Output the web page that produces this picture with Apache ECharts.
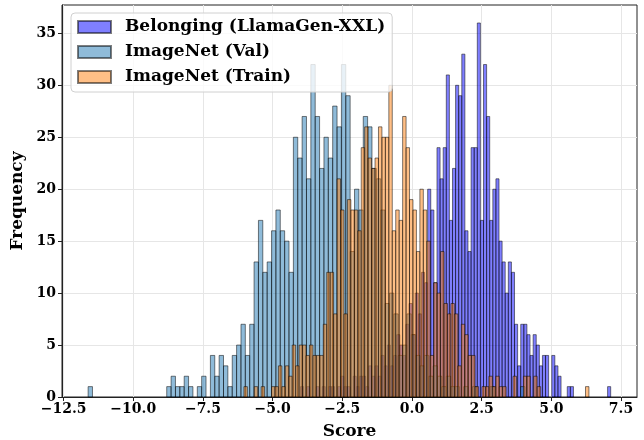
<!DOCTYPE html>
<html>
<head>
<meta charset="utf-8">
<script src="https://cdn.jsdelivr.net/npm/echarts@6/dist/echarts.min.js"></script>
<style>
  html, body { margin: 0; padding: 0; background: #fff; }
  #chart { width: 644px; height: 440px; }
</style>
</head>
<body>
<div id="chart"></div>
<script>
// 每个分布 100 个分箱，范围和计数从图上读出
const belongRange = [-4.0, 7.13];
const valRange = [-11.62, 4.05];
const trainRange = [-6.03, 6.35];

const belongCounts = [
  1, 0, 1, 0, 0, 1, 0, 1, 0, 1,
  1, 0, 1, 2, 1, 1, 0, 2, 1, 2,
  2, 1, 3, 2, 3, 2, 4, 3, 5, 3,
  4, 6, 5, 4, 7, 9, 6, 10, 8, 12,
  11, 20, 18, 11, 24, 21, 24, 31, 17, 22,
  30, 29, 33, 16, 14, 24, 24, 36, 17, 32,
  27, 17, 20, 21, 15, 13, 10, 13, 12, 7,
  3, 7, 7, 6, 4, 6, 5, 3, 4, 4,
  0, 4, 3, 2, 0, 0, 1, 1, 0, 0,
  0, 0, 0, 0, 0, 0, 0, 0, 0, 1
];

const valCounts = [
  1, 0, 0, 0, 0, 0, 0, 0, 0, 0,
  0, 0, 0, 0, 0, 0, 0, 0, 1, 2,
  1, 1, 2, 1, 0, 1, 2, 0, 4, 2,
  4, 3, 1, 4, 5, 7, 4, 7, 13, 17,
  12, 13, 16, 18, 16, 15, 12, 25, 23, 27,
  21, 32, 27, 22, 25, 23, 28, 26, 32, 29,
  14, 20, 18, 27, 26, 22, 21, 18, 9, 10,
  8, 4, 5, 8, 6, 4, 3, 4, 2, 3,
  2, 1, 2, 1, 1, 0, 1, 0, 1, 0,
  0, 0, 1, 0, 0, 0, 0, 0, 0, 1
];

const trainCounts = [
  1, 0, 0, 1, 0, 1, 0, 0, 1, 1,
  3, 1, 3, 2, 5, 3, 5, 5, 4, 5,
  4, 4, 4, 7, 12, 12, 8, 21, 18, 8,
  19, 18, 18, 16, 24, 26, 23, 22, 23, 26,
  25, 25, 30, 16, 18, 17, 27, 24, 19, 18,
  14, 20, 18, 15, 4, 11, 10, 14, 9, 8,
  9, 8, 3, 7, 6, 4, 4, 1, 0, 1,
  1, 2, 1, 2, 1, 1, 0, 0, 2, 0,
  0, 2, 2, 0, 2, 1, 0, 0, 0, 0,
  0, 0, 0, 0, 0, 0, 0, 0, 0, 1
];

const xTicks = [-12.5, -10, -7.5, -5, -2.5, 0, 2.5, 5, 7.5];
const yTicks = [0, 5, 10, 15, 20, 25, 30, 35];

const FONT = 'DejaVu Serif';

// [左边界, 右边界, 计数]
function toBins(range, counts) {
    const w = (range[1] - range[0]) / counts.length;
    return counts.map((c, i) => [range[0] + i * w, range[0] + (i + 1) * w, c]);
}

function renderBar(params, api) {
    const c = api.value(2);
    if (!c) return null;
    const p0 = api.coord([api.value(0), c]);
    const p1 = api.coord([api.value(1), 0]);
    return {
        type: 'rect',
        shape: { x: p0[0], y: p0[1], width: p1[0] - p0[0], height: p1[1] - p0[1] },
        style: { fill: api.visual('color'), stroke: 'rgba(0,0,0,0.5)', lineWidth: 1 }
    };
}

function histSeries(name, color, range, counts) {
    return {
        name: name,
        type: 'custom',
        renderItem: renderBar,
        encode: { x: [0, 1], y: 2 },
        itemStyle: { color: color, borderColor: 'rgba(0,0,0,0.5)', borderWidth: 1 },
        data: toBins(range, counts)
    };
}

const chart = echarts.init(document.getElementById('chart'), null, { renderer: 'canvas' });

const option = {
    animation: false,
    grid: {
        left: 62, right: 7, top: 5, bottom: 43,
        outerBoundsMode: 'none',
        show: true, borderColor: '#222', borderWidth: 1
    },
    legend: {
        orient: 'vertical',
        left: 71, top: 13,
        icon: 'rect',
        itemWidth: 33, itemHeight: 12, itemGap: 5,
        padding: [4, 7, 5, 6],
        backgroundColor: 'rgba(255,255,255,0.8)',
        borderColor: '#d0d0d0', borderWidth: 1, borderRadius: 4,
        textStyle: {
            fontFamily: FONT, fontWeight: 'bold', fontSize: 17, color: '#000',
            lineHeight: 20, padding: [0, 0, 0, 9]
        },
        data: ['Belonging (LlamaGen-XXL)', 'ImageNet (Val)', 'ImageNet (Train)']
    },
    xAxis: {
        type: 'value',
        min: -12.557, max: 8.074,
        name: 'Score', nameLocation: 'middle', nameGap: 26,
        nameTextStyle: { fontFamily: FONT, fontWeight: 'bold', fontSize: 17, color: '#000' },
        axisLine: { show: true, onZero: false, lineStyle: { color: '#222', width: 1 } },
        axisTick: { show: true, length: 4, lineStyle: { color: '#222' }, customValues: xTicks },
        axisLabel: {
            customValues: xTicks, margin: 5,
            fontFamily: FONT, fontWeight: 'bold', fontSize: 14, color: '#000',
            formatter: v => (v < 0 ? '\u2212' : '') + Math.abs(v).toFixed(1)
        },
        splitLine: { show: true, lineStyle: { color: '#e6e6e6', width: 1 } }
    },
    yAxis: {
        type: 'value',
        min: 0, max: 37.73,
        name: 'Frequency', nameLocation: 'middle', nameGap: 33,
        nameTextStyle: { fontFamily: FONT, fontWeight: 'bold', fontSize: 17, color: '#000' },
        axisLine: { show: true, onZero: false, lineStyle: { color: '#222', width: 1 } },
        axisTick: { show: true, length: 4, lineStyle: { color: '#222' }, customValues: yTicks },
        axisLabel: {
            customValues: yTicks, margin: 6,
            fontFamily: FONT, fontWeight: 'bold', fontSize: 14, color: '#000'
        },
        splitLine: { show: true, lineStyle: { color: '#e6e6e6', width: 1 } }
    },
    series: [
        histSeries('Belonging (LlamaGen-XXL)', 'rgba(0,0,255,0.5)', belongRange, belongCounts),
        histSeries('ImageNet (Val)', 'rgba(31,119,180,0.5)', valRange, valCounts),
        histSeries('ImageNet (Train)', 'rgba(255,127,14,0.5)', trainRange, trainCounts)
    ]
};

chart.setOption(option);
</script>
</body>
</html>
